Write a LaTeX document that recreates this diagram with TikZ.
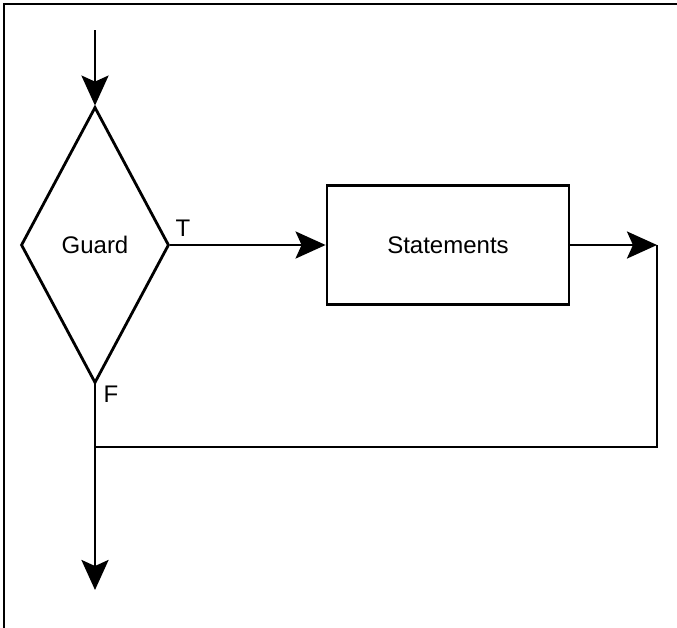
\documentclass[tikz,border=0pt]{standalone}
\usepackage{fontspec}
\setmainfont{Liberation Sans}
\usetikzlibrary{arrows.meta,shapes.geometric}

\tikzset{
  flow/.style={-{Stealth[length=15pt,width=13.5pt,inset=3pt]}},
  test/.style={draw,diamond,inner sep=0pt,minimum width=74pt,minimum height=138pt},
  block/.style={draw,rectangle,inner sep=0pt,minimum width=121pt,minimum height=59.5pt}
}

\begin{document}
\begin{tikzpicture}[x=0.5pt,y=-0.5pt,line width=1.4pt,font=\fontsize{12}{14}\selectfont]
      \useasboundingbox (0,0) rectangle (677,628);
      % frame
      \draw (4,628) -- (4,4) -- (677,4);
      \draw
        (95,245) node[test] (guard){Guard}
        (448,245) node[block] (stmts){Statements}
        (183,228) node (t){T}
        (111,394) node (f){F};
      \coordinate (in) at (95,30);
      \coordinate (join) at (657,245);
      \coordinate (corner) at (657,447);
      \coordinate (merge) at (95,447);
      \coordinate (out) at (95,590);
      \begin{scope}[flow]
        \draw (in) to (guard.north);
        \draw (guard.east) to (stmts.west);
        \draw (stmts.east) to (join);
        \draw (guard.south) to (out);
      \end{scope}
      % loop back to the exit
      \draw (join) -- (corner) -- (merge);
    \end{tikzpicture}
\end{document}
